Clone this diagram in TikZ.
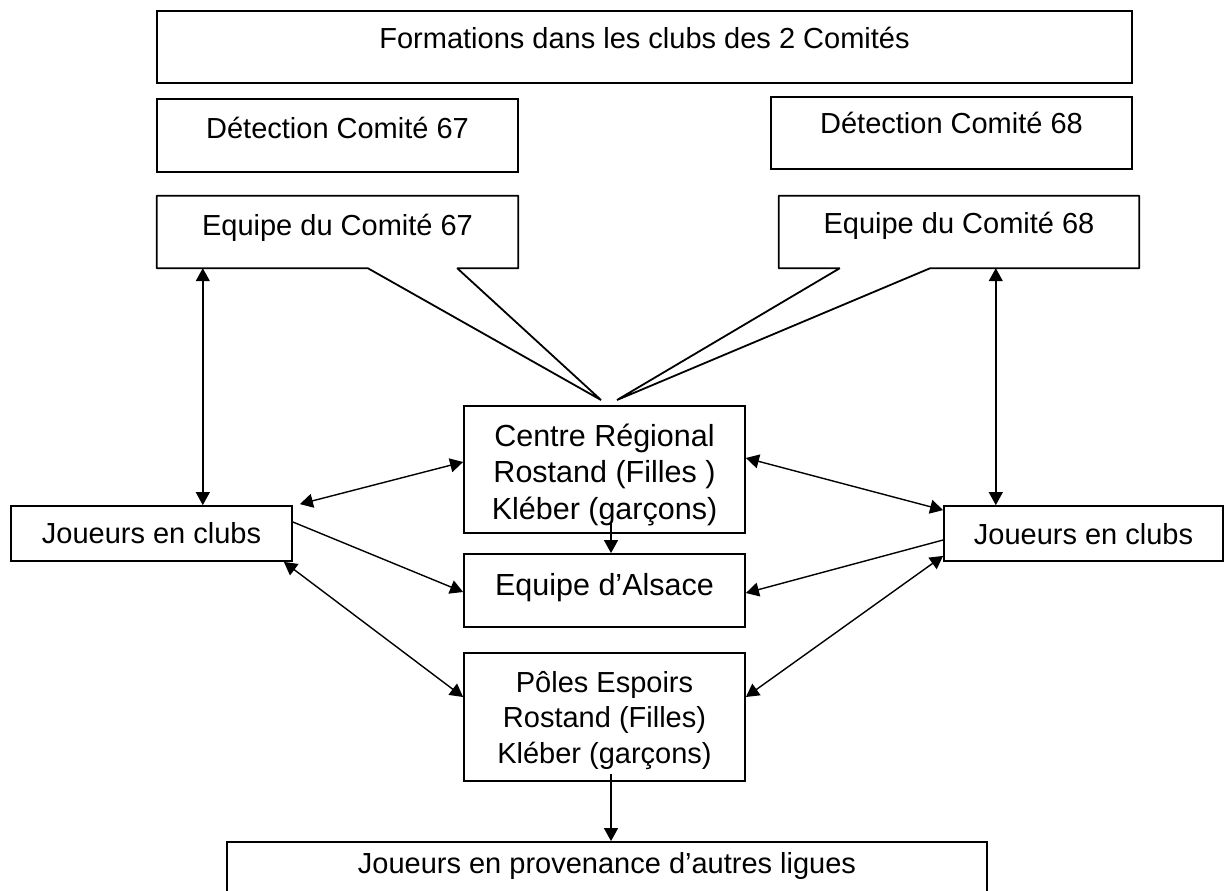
\documentclass[tikz,border=0pt]{standalone}
\usepackage{fontspec}
\setmainfont{Liberation Sans}
\usetikzlibrary{arrows.meta}
\begin{document}
\begin{tikzpicture}[x=1pt,y=-1pt,
  box/.style={draw=black, line width=1.8pt, inner sep=0pt},
  ghost/.style={inner sep=0pt},
  outline/.style={draw=black, line width=1.8pt, line join=bevel},
  txt/.style={inner sep=0pt, font=\fontsize{29}{35.5}\selectfont},
  txtb/.style={inner sep=0pt, font=\fontsize{30.5}{36.5}\selectfont},
  >={Triangle[length=13pt,width=14pt]},
  arr/.style={line width=1.4pt, ->},
  dbl/.style={line width=1.4pt, <->}]
\fill[white] (0,0) rectangle (1224,891);
\useasboundingbox (0,0) rectangle (1224,891);
\clip (0,0) rectangle (1224,891);

% top boxes
\node[box, minimum width=975pt, minimum height=72pt] (form) at (644.5,47) {};
\node[txt, anchor=base] (formT) at (644.5,49) {Formations dans les clubs des 2 Comités};

\node[box, minimum width=361pt, minimum height=73pt] (det67) at (337.5,135.5) {};
\node[txt, anchor=base] (det67T) at (337.5,138) {Détection Comité 67};

\node[box, minimum width=361pt, minimum height=72pt] (det68) at (951.5,133) {};
\node[txt, anchor=base] (det68T) at (951.5,133) {Détection Comité 68};

% callouts
\node[ghost, minimum width=361pt, minimum height=72pt] (eq67) at (337.5,232) {};
\coordinate (tip67) at (601,400);
\draw[outline] (eq67.north west) -- (eq67.north east) -- (eq67.south east)
  -- ([xshift=-61pt]eq67.south east) -- (tip67) -- ([xshift=211pt]eq67.south west)
  -- (eq67.south west) -- cycle;
\node[txt, anchor=base] (eq67T) at (337.5,235) {Equipe du Comité 67};

\node[ghost, minimum width=360pt, minimum height=72pt] (eq68) at (959,232) {};
\coordinate (tip68) at (617,400);
\draw[outline] (eq68.north west) -- (eq68.north east) -- (eq68.south east)
  -- ([xshift=-209pt]eq68.south east) -- (tip68) -- ([xshift=61pt]eq68.south west)
  -- (eq68.south west) -- cycle;
\node[txt, anchor=base] (eq68T) at (959,233) {Equipe du Comité 68};

% middle boxes
\node[box, minimum width=281pt, minimum height=127pt] (centre) at (604.5,469.5) {};
\node[txtb, anchor=north, align=center] (centreT) at (604.5,421)
  {\rule{0pt}{25pt}Centre Régional\\Rostand (Filles )\\Kléber (garçons)};

\node[box, minimum width=281pt, minimum height=73pt] (alsace) at (604.5,590.5) {};
\node[txtb, anchor=base] (alsaceT) at (604.5,595) {Equipe d’Alsace};

\node[box, minimum width=281pt, minimum height=128pt] (poles) at (604.5,717) {};
\node[txt, anchor=north, align=center] (polesT) at (604.5,667)
  {\rule{0pt}{25pt}Pôles Espoirs\\Rostand (Filles)\\Kléber (garçons)};

\node[box, minimum width=281pt, minimum height=55pt] (jl) at (151.5,533.5) {};
\node[txt, anchor=base] (jlT) at (151.5,543) {Joueurs en clubs};

\node[box, minimum width=279pt, minimum height=55pt] (jr) at (1083.5,533.5) {};
\node[txt, anchor=base] (jrT) at (1083.5,544) {Joueurs en clubs};

\node[box, minimum width=760pt, minimum height=70pt] (bot) at (607,877) {};
\node[txt, anchor=base] (botT) at (607,873) {Joueurs en provenance d’autres ligues};

% connectors
\draw[dbl] ([xshift=46pt]eq67.south west) -- ([xshift=46pt]eq67.south west |- jl.north);
\draw[dbl] ([xshift=217pt]eq68.south west) -- ([xshift=217pt]eq68.south west |- jr.north);

\draw[dbl] ([xshift=7pt,yshift=1pt]jl.north east) -- ([yshift=7.5pt]centre.west);
\draw[arr] ([yshift=11.5pt]jl.east) -- ([yshift=-1.5pt]alsace.west);
\draw[dbl] ([xshift=-9pt]jl.south east) -- ([yshift=20pt]poles.west);

\draw[dbl] ([yshift=-5pt]jr.north west) -- ([yshift=11.5pt]centre.east);
\draw[arr] ([yshift=-6.5pt]jr.west) -- ([yshift=-2.5pt]alsace.east);
\draw[dbl] ([yshift=6pt]jr.south west) -- ([yshift=20pt]poles.east);

\draw[arr] ([xshift=6.5pt,yshift=11pt]centre.south) -- ([xshift=6.5pt]alsace.north);
\draw[arr] ([xshift=6.5pt,yshift=8pt]poles.south) -- ([xshift=4pt]bot.north);
\end{tikzpicture}
\end{document}
